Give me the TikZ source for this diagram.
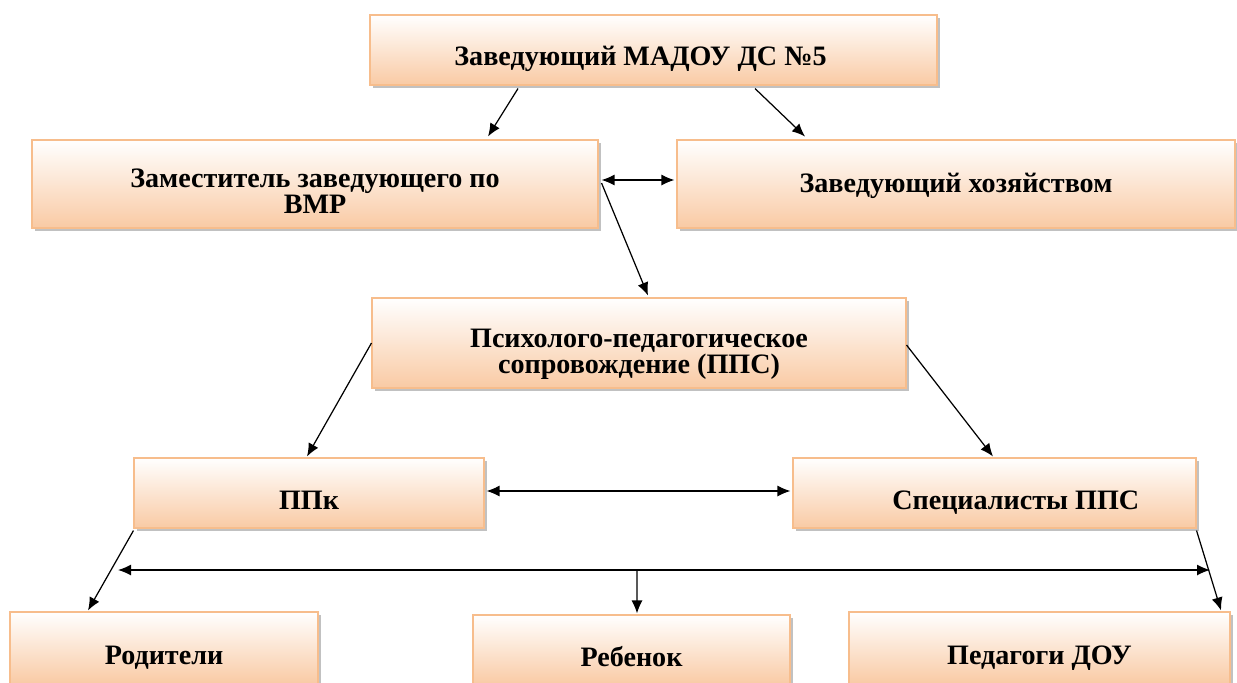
\documentclass[tikz,border=0pt]{standalone}
\usepackage{fontspec}
\setmainfont{Liberation Serif}
\usetikzlibrary{arrows.meta,shadows}
\definecolor{peach}{HTML}{F9CAA4}
\definecolor{peachline}{HTML}{F7BD8C}
\lineskiplimit=-100pt

\begin{document}
\begin{tikzpicture}[
		box/.style={draw=peachline,line width=0.6pt,top color=white,bottom color=peach,
			drop shadow={shadow xshift=1.6pt,shadow yshift=-1.6pt,fill=black!35,opacity=0.7},
			align=center,font=\fontsize{16}{14}\selectfont\bfseries,inner sep=0pt},
		textdrop/.style={text height=#1,text depth=0pt},
		twolines/.style={font=\fontsize{16}{#1}\selectfont\bfseries},
		link/.style={line width=0.7pt,>={Latex[length=2.6mm,width=2.2mm]}}]
				% Structure of psychological and pedagogical support
				\clip (0,0) rectangle (24.74,-13.64);
				\node[box,textdrop=0.6cm,minimum width=11.34cm,minimum height=1.4cm] (Head) at (13.07,-1.0) {Заведующий МАДОУ ДС №5\hspace{0.52cm}};
				\node[box,twolines=14.6pt,textdrop=1.16cm,minimum width=11.32cm,minimum height=1.76cm] (Deputy) at (6.3,-3.68) {Заместитель заведующего по\\ВМР};
				\node[box,textdrop=0.32cm,minimum width=11.16cm,minimum height=1.76cm] (Steward) at (19.12,-3.68) {Заведующий хозяйством};
				\node[box,twolines=14.8pt,textdrop=1.2cm,minimum width=10.68cm,minimum height=1.8cm] (Support) at (12.78,-6.86) {Психолого-педагогическое\\сопровождение (ППС)};
				\node[box,textdrop=0.64cm,minimum width=7.0cm,minimum height=1.4cm] (Council) at (6.18,-9.86) {ППк};
				\node[box,textdrop=0.64cm,minimum width=8.06cm,minimum height=1.4cm] (Specialists) at (19.89,-9.86) {\hspace{0.85cm}Специалисты ППС};
				\node[box,textdrop=0.64cm,minimum width=6.16cm,minimum height=1.44cm] (Parents) at (3.28,-12.96) {Родители};
				\node[box,textdrop=0.64cm,minimum width=6.34cm,minimum height=1.4cm] (Child) at (12.63,-13.0) {Ребенок};
				\node[box,textdrop=0.64cm,minimum width=7.62cm,minimum height=1.44cm] (Teachers) at (20.79,-12.96) {Педагоги ДОУ};

				\coordinate (BusLeft) at (2.36,-11.4);
				\coordinate (BusRight) at (24.2,-11.4);
				\coordinate (BusMid) at (12.74,-11.4);

				\draw[link,->] ([xshift=-2.71cm,yshift=-0.06cm]Head.south) to ([xshift=3.46cm,yshift=0.06cm]Deputy.north);
				\draw[link,->] ([xshift=2.03cm,yshift=-0.06cm]Head.south) to ([xshift=-3.02cm,yshift=0.06cm]Steward.north);
				\draw[link,<->] ([xshift=0.06cm,yshift=0.08cm]Deputy.east) to ([xshift=-0.04cm,yshift=0.08cm]Steward.west);
				\draw[link,->] ([xshift=0.06cm,yshift=0.02cm]Deputy.east) to ([xshift=0.18cm,yshift=0.04cm]Support.north);
				\draw[link,->] (Support.west) to ([xshift=-0.04cm,yshift=0.02cm]Council.north);
				\draw[link,->] ([yshift=-0.04cm]Support.east) to ([xshift=-0.03cm,yshift=0.02cm]Specialists.north);
				\draw[link,<->] ([xshift=0.04cm,yshift=0.04cm]Council.east) to ([xshift=-0.04cm,yshift=0.04cm]Specialists.west);
				\draw[link,->] ([yshift=-0.04cm]Council.south west) to ([xshift=-1.52cm,yshift=0.02cm]Parents.north);
				\draw[link,->] ([yshift=-0.04cm]Specialists.south east) to ([xshift=-0.19cm,yshift=0.02cm]Teachers.north east);
				\draw[link,<->] (BusLeft) to (BusRight);
				\draw[link,->] (BusMid) to ([xshift=0.11cm,yshift=0.02cm]Child.north);
				\end{tikzpicture}
\end{document}
